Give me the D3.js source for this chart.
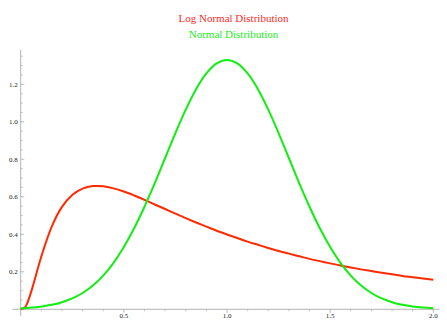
<!DOCTYPE html>
<html>
<head>
<meta charset="utf-8">
<script src="https://cdn.jsdelivr.net/npm/d3@7"></script>
<style>
  html, body { margin: 0; padding: 0; background: #fff; }
  svg { display: block; }
  text { font-family: "Liberation Serif", "Times New Roman", serif; }
</style>
</head>
<body>
<svg id="chart" width="447" height="328"></svg>
<script>
// Sample positions along x (shared by both curves)
const xs = [0, 0.02, 0.03, 0.05, 0.075, 0.1, 0.15, 0.2, 0.25, 0.3, 0.35, 0.4, 0.45, 0.5,
            0.55, 0.6, 0.65, 0.7, 0.75, 0.8, 0.85, 0.9, 0.95, 1.0,
            1.05, 1.1, 1.15, 1.2, 1.25, 1.3, 1.35, 1.4, 1.45, 1.5,
            1.55, 1.6, 1.65, 1.7, 1.75, 1.8, 1.85, 1.9, 1.95, 2.0];

// Log normal density values at xs
const logNormal = [0, 0.009, 0.028, 0.090, 0.186, 0.282, 0.440, 0.546, 0.610, 0.644, 0.657, 0.656, 0.645, 0.628,
                   0.607, 0.584, 0.559, 0.535, 0.510, 0.486, 0.463, 0.441, 0.419, 0.399,
                   0.380, 0.361, 0.344, 0.327, 0.311, 0.297, 0.283, 0.269, 0.257, 0.245,
                   0.234, 0.223, 0.213, 0.204, 0.195, 0.187, 0.178, 0.171, 0.164, 0.157];

// Normal density values at xs
const normal = [0.005, 0.006, 0.007, 0.009, 0.011, 0.015, 0.024, 0.038, 0.058, 0.087, 0.127, 0.180, 0.248, 0.332,
                0.432, 0.547, 0.673, 0.807, 0.940, 1.065, 1.174, 1.258, 1.312, 1.330,
                1.312, 1.258, 1.174, 1.065, 0.940, 0.807, 0.673, 0.547, 0.432, 0.332,
                0.248, 0.180, 0.127, 0.087, 0.058, 0.038, 0.024, 0.015, 0.009, 0.005];

const xMajor = [0.5, 1.0, 1.5, 2.0];
const xMinor = [0.1, 0.2, 0.3, 0.4, 0.6, 0.7, 0.8, 0.9, 1.1, 1.2, 1.3, 1.4, 1.6, 1.7, 1.8, 1.9];
const yMajor = [0.2, 0.4, 0.6, 0.8, 1.0, 1.2];
const yMinor = [0.05, 0.1, 0.15, 0.25, 0.3, 0.35, 0.45, 0.5, 0.55, 0.65, 0.7, 0.75,
                0.85, 0.9, 0.95, 1.05, 1.1, 1.15, 1.25, 1.3, 1.35];

const titles = [
  { text: "Log Normal Distribution", color: "#ff2a2a" },
  { text: "Normal Distribution", color: "#22ee22" }
];

const svg = d3.select("#chart");

const x = d3.scaleLinear().domain([0, 2]).range([20.7, 433.3]);
const y = d3.scaleLinear().domain([0, 1.383]).range([309.3, 50]);

const axisColor = "#a0a0a0";
const labelColor = "#222";

// x axis: major + minor ticks
const gx = svg.append("g").attr("transform", `translate(0,${y(0)})`);
gx.append("line").attr("x1", x(-0.04)).attr("x2", x(2.03)).attr("stroke", axisColor).attr("stroke-width", 0.8);
gx.selectAll("line.minor").data(xMinor).join("line").attr("class", "minor")
  .attr("x1", d => x(d)).attr("x2", d => x(d)).attr("y1", 0).attr("y2", 2)
  .attr("stroke", axisColor).attr("stroke-width", 0.6);
gx.selectAll("line.major").data(xMajor).join("line").attr("class", "major")
  .attr("x1", d => x(d)).attr("x2", d => x(d)).attr("y1", 0).attr("y2", 3.5)
  .attr("stroke", axisColor).attr("stroke-width", 0.7);
gx.selectAll("text").data(xMajor).join("text")
  .attr("x", d => x(d)).attr("y", 8.5)
  .attr("text-anchor", "middle").attr("font-size", 7).attr("fill", labelColor)
  .text(d => d3.format(".1f")(d));

// y axis: major + minor ticks
const gy = svg.append("g").attr("transform", `translate(${x(0)},0)`);
gy.append("line").attr("y1", y(-0.036)).attr("y2", y(1.383)).attr("stroke", axisColor).attr("stroke-width", 0.8);
gy.selectAll("line.minor").data(yMinor).join("line").attr("class", "minor")
  .attr("y1", d => y(d)).attr("y2", d => y(d)).attr("x1", 0).attr("x2", 2)
  .attr("stroke", axisColor).attr("stroke-width", 0.6);
gy.selectAll("line.major").data(yMajor).join("line").attr("class", "major")
  .attr("y1", d => y(d)).attr("y2", d => y(d)).attr("x1", 0).attr("x2", 3.5)
  .attr("stroke", axisColor).attr("stroke-width", 0.7);
gy.selectAll("text").data(yMajor).join("text")
  .attr("x", -3).attr("y", d => y(d)).attr("dy", "0.35em")
  .attr("text-anchor", "end").attr("font-size", 7).attr("fill", labelColor)
  .text(d => d3.format(".1f")(d));

// curves
const line = d3.line().x(d => x(d[0])).y(d => y(d[1])).curve(d3.curveCatmullRom.alpha(0.5));

svg.append("path").datum(xs.map((v, i) => [v, logNormal[i]]))
  .attr("d", line).attr("fill", "none").attr("stroke", "#ff2a00")
  .attr("stroke-width", 2).attr("stroke-linejoin", "round");

svg.append("path").datum(xs.map((v, i) => [v, normal[i]]))
  .attr("d", line).attr("fill", "none").attr("stroke", "#11ee11")
  .attr("stroke-width", 2).attr("stroke-linejoin", "round");

// two-line legend title
svg.selectAll("text.title").data(titles).join("text").attr("class", "title")
  .attr("x", 233.5).attr("y", (d, i) => 22 + i * 15.5)
  .attr("text-anchor", "middle").attr("font-size", 11).attr("fill", d => d.color)
  .text(d => d.text);
</script>
</body>
</html>
